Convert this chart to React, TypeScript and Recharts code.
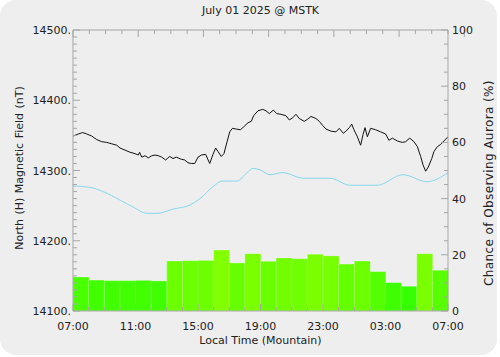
import { ComposedChart, Bar, Line, XAxis, YAxis, Cell } from "recharts";

// hours since 07:00 local (Mountain)
const chanceValues = [
  12.1, 11.0, 10.8, 10.8, 10.9, 10.7, 17.8, 17.9, 18.0, 21.7, 17.1, 20.4,
  17.7, 18.9, 18.6, 20.2, 19.6, 16.7, 17.8, 14.0, 10.1, 8.8, 20.4, 14.5,
];

const fieldTimes = [
  0.02, 0.34, 0.62, 0.88, 1.2, 1.52, 1.84, 2.16, 2.48, 2.8, 3.01, 3.33, 3.65, 3.97,
  4.18, 4.26, 4.4, 4.61, 4.82, 5.04, 5.25, 5.46, 5.68, 5.93, 6.19, 6.4, 6.61, 6.93,
  7.15, 7.36, 7.57, 7.79, 8.0, 8.21, 8.49, 8.75, 8.96, 9.13, 9.28, 9.49, 9.66, 9.86,
  10.03, 10.2, 10.45, 10.71, 10.92, 11.2, 11.41, 11.56, 11.84, 12.14, 12.35, 12.56,
  12.82, 13.04, 13.31, 13.63, 13.84, 14.06, 14.27, 14.48, 14.8, 15.02, 15.23, 15.55,
  15.76, 15.98, 16.19, 16.51, 16.83, 17.04, 17.3, 17.47, 17.68, 17.84, 17.98, 18.2,
  18.41, 18.56, 18.69, 18.84, 19.05, 19.37, 19.69, 20.01, 20.22, 20.44, 20.76, 21.08,
  21.29, 21.55, 21.82, 22.04, 22.25, 22.4, 22.57, 22.74, 22.96, 23.1, 23.32, 23.53,
  23.74, 24.0,
];
const fieldNT = [
  14349, 14352, 14354, 14352, 14349, 14344, 14341, 14340, 14338, 14336, 14332, 14329, 14326, 14324,
  14322, 14326, 14319, 14321, 14318, 14321, 14322, 14321, 14319, 14315, 14320, 14317, 14319, 14316,
  14315, 14311, 14310, 14310, 14319, 14322, 14323, 14310, 14323, 14332, 14327, 14320, 14324, 14341,
  14355, 14360, 14359, 14358, 14362, 14368, 14370, 14378, 14385, 14387, 14385, 14381,
  14386, 14381, 14380, 14378, 14372, 14375, 14380, 14374, 14370, 14373, 14377, 14374,
  14370, 14364, 14359, 14356, 14355, 14360, 14353, 14356, 14361, 14366, 14358, 14348,
  14336, 14351, 14361, 14348, 14360, 14358, 14355, 14352, 14343, 14346, 14342, 14340,
  14341, 14346, 14341, 14334, 14320, 14308, 14299, 14305, 14317, 14327, 14334, 14337,
  14342, 14348,
];

const quietTimes = [
  0, 1.09, 1.92, 3.0, 3.84, 4.74, 5.38, 6.4, 7.5, 8.13, 8.96, 9.54, 10.5, 11.14,
  11.52, 11.97, 12.6, 13.44, 14.72, 16.45, 17.73, 19.46, 21.12, 22.66, 24,
];
const quietNT = [
  14278, 14276, 14270, 14258, 14248, 14239, 14239, 14245, 14251, 14260, 14277, 14285, 14285, 14297,
  14303, 14301, 14294, 14297, 14289, 14289, 14279, 14279, 14294, 14284, 14297,
];

const hourTicks = [0, 1, 2, 3, 4, 5, 6, 7, 8, 9, 10, 11, 12, 13, 14, 15, 16, 17, 18, 19, 20, 21, 22, 23, 24];
const majorHours = [0, 4, 8, 12, 16, 20, 24];
const timeLabels = ["07:00", "11:00", "15:00", "19:00", "23:00", "03:00", "07:00"];

const fieldMajor = [14100, 14200, 14300, 14400, 14500];
const fieldMinor = Array.from({ length: 41 }, (_, i) => 14100 + i * 10);
const chanceMajor = [0, 20, 40, 60, 80, 100];
const chanceMinor = Array.from({ length: 21 }, (_, i) => i * 5);

const barRows = chanceValues.map((chance, i) => ({ hour: i, chance }));
const fieldRows = fieldTimes.map((t, i) => ({ t, nT: fieldNT[i] }));
const quietRows = quietTimes.map((t, i) => ({ t, nT: quietNT[i] }));

const FONT = "'DejaVu Sans', sans-serif";
const AXIS = "#a6a6a6";
const TEXT = "#222";

function barColor(v: number) {
  const k = Math.max(0, Math.min(1, (v - 8) / 14));
  const r = Math.round(0x30 + k * (0x84 - 0x30));
  return `rgb(${r},255,0)`;
}

function BottomTick({ x, y, payload }: any) {
  const i = majorHours.indexOf(payload.value);
  const major = i >= 0;
  return (
    <g>
      <line x1={x} x2={x} y1={y} y2={y - (major ? 7 : 4)} stroke={AXIS} />
      {major && (
        <text x={x} y={y + 19} textAnchor="middle" fontSize={11} fill={TEXT} fontFamily={FONT}>
          {timeLabels[i]}
        </text>
      )}
    </g>
  );
}

function TopTick({ x, y, payload }: any) {
  const major = majorHours.includes(payload.value);
  return <line x1={x} x2={x} y1={y} y2={y + (major ? 7 : 4)} stroke={AXIS} />;
}

function LeftTick({ x, y, payload }: any) {
  const major = fieldMajor.includes(payload.value);
  return (
    <g>
      <line x1={x} x2={x + (major ? 7 : 4)} y1={y} y2={y} stroke={AXIS} />
      {major && (
        <text x={x - 2} y={y + 4} textAnchor="end" fontSize={11} fill={TEXT} fontFamily={FONT}>
          {payload.value}.
        </text>
      )}
    </g>
  );
}

function RightTick({ x, y, payload }: any) {
  const major = chanceMajor.includes(payload.value);
  return (
    <g>
      <line x1={x} x2={x - (major ? 7 : 4)} y1={y} y2={y} stroke={AXIS} />
      {major && (
        <text x={x + 4} y={y + 4} textAnchor="start" fontSize={11} fill={TEXT} fontFamily={FONT}>
          {payload.value}
        </text>
      )}
    </g>
  );
}

const sideLabel = {
  position: "absolute" as const,
  color: TEXT,
  whiteSpace: "nowrap" as const,
  transform: "translate(-50%, -50%) rotate(-90deg)",
};

export default function App() {
  return (
    <div style={{ position: "absolute", left: 0, top: 0, width: 500, height: 357, background: "#fff", fontFamily: FONT }}>
      <div style={{ position: "absolute", left: 0, top: 0, width: 497, height: 355, background: "#eeeeee", borderRadius: 16 }} />
      <div style={{ position: "absolute", left: 73, width: 375, top: 4, textAlign: "center", fontSize: 11, color: TEXT }}>
        July 01 2025 @ MSTK
      </div>
      <div style={{ ...sideLabel, left: 19, top: 168, fontSize: 11, wordSpacing: 1 }}>North (H) Magnetic Field (nT)</div>
      <div style={{ ...sideLabel, left: 489, top: 183, fontSize: 12, letterSpacing: 0.4 }}>Chance of Observing Aurora (%)</div>
      <div style={{ position: "absolute", left: 73, width: 375, top: 334, textAlign: "center", fontSize: 11, color: TEXT }}>
        Local Time (Mountain)
      </div>
      <div style={{ position: "absolute", left: 0, top: 0 }}>
        <ComposedChart
          width={500}
          height={357}
          data={barRows}
          margin={{ top: 29, right: 0, bottom: 0, left: 0 }}
          barCategoryGap={0}
          barGap={0}
        >
          <Bar
            dataKey="chance"
            xAxisId="bars"
            yAxisId="pct"
            isAnimationActive={false}
            stroke="rgba(255,255,255,0.25)"
            strokeWidth={1}
          >
            {chanceValues.map((v, i) => (
              <Cell key={i} fill={barColor(v)} />
            ))}
          </Bar>
          <Line
            data={quietRows}
            dataKey="nT"
            xAxisId="t"
            yAxisId="nT"
            type="monotone"
            stroke="#88d8ee"
            strokeWidth={1}
            dot={false}
            isAnimationActive={false}
          />
          <Line
            data={fieldRows}
            dataKey="nT"
            xAxisId="t"
            yAxisId="nT"
            type="linear"
            stroke="#111"
            strokeWidth={1}
            dot={false}
            isAnimationActive={false}
          />
          <XAxis
            xAxisId="t"
            dataKey="t"
            type="number"
            domain={[0, 24]}
            allowDataOverflow
            ticks={hourTicks}
            interval={0}
            height={46}
            tickSize={0}
            tickMargin={0}
            tickLine={false}
            axisLine={{ stroke: AXIS }}
            tick={<BottomTick />}
          />
          <XAxis xAxisId="bars" dataKey="hour" type="category" height={0} hide />
          <XAxis
            xAxisId="top"
            orientation="top"
            type="number"
            domain={[0, 24]}
            ticks={hourTicks}
            interval={0}
            height={1}
            tickSize={0}
            tickMargin={0}
            tickLine={false}
            axisLine={{ stroke: AXIS }}
            tick={<TopTick />}
          />
          <YAxis
            yAxisId="nT"
            orientation="left"
            type="number"
            domain={[14100, 14500]}
            ticks={fieldMinor}
            interval={0}
            width={73}
            tickSize={0}
            tickMargin={0}
            tickLine={false}
            axisLine={{ stroke: AXIS }}
            tick={<LeftTick />}
          />
          <YAxis
            yAxisId="pct"
            orientation="right"
            type="number"
            domain={[0, 100]}
            ticks={chanceMinor}
            interval={0}
            width={52}
            tickSize={0}
            tickMargin={0}
            tickLine={false}
            axisLine={{ stroke: AXIS }}
            tick={<RightTick />}
          />
        </ComposedChart>
      </div>
    </div>
  );
}
